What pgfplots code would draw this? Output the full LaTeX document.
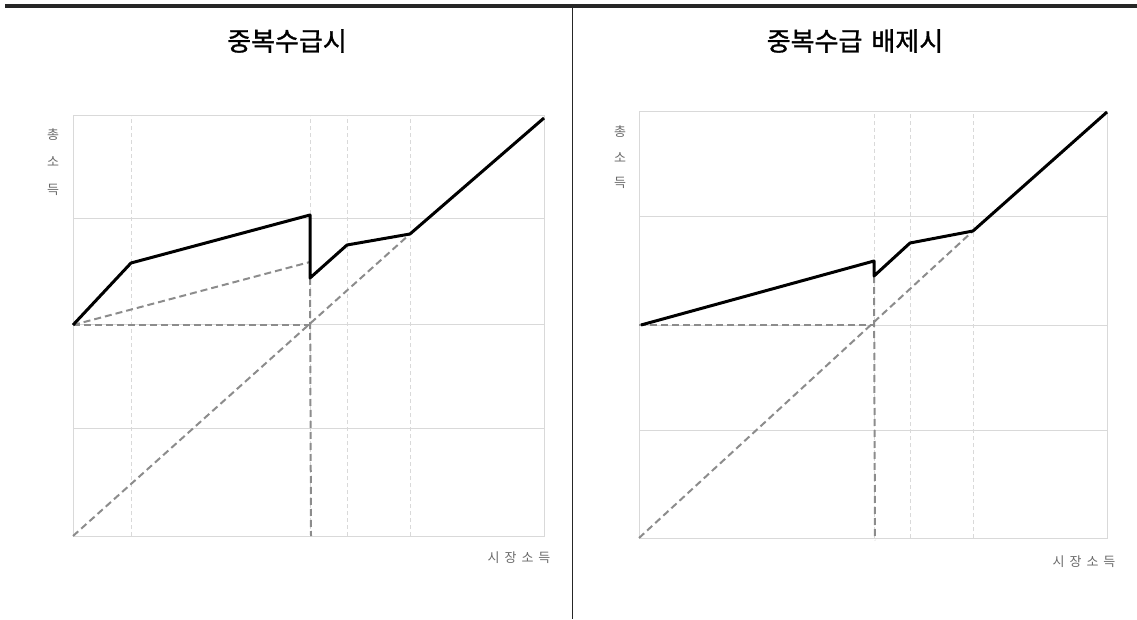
\documentclass[border=0pt]{standalone}
\usepackage{fontspec}
\usepackage{pgfplots}
\pgfplotsset{compat=1.18}
\newfontfamily\kr{Noto Sans CJK KR}
\newfontfamily\krb[FakeBold=1.2]{Noto Sans CJK KR}
\definecolor{gridc}{RGB}{217,217,217}
\definecolor{dashc}{RGB}{140,140,140}
\definecolor{labc}{RGB}{105,105,105}
\pgfplotsset{panel/.style={scale only axis, anchor=south west, xmin=0, ymin=0,
  axis line style={gridc, line width=1pt}, xmajorgrids, ymajorgrids,
  x grid style={gridc, line width=0.8pt, dash pattern=on 4pt off 3pt},
  y grid style={gridc, line width=1pt},
  xticklabels={}, yticklabels={}, major tick length=0pt, clip=false},
  dl/.style={dashc, line width=2pt, dash pattern=on 7pt off 4pt},
  bl/.style={black, line width=3pt, line join=round}}
\begin{document}
\begin{tikzpicture}
\begin{axis}[panel, at={(73pt,83pt)}, width=471pt, height=420pt, xmax=471, ymax=420,
  xtick={58,237,274,337}, ytick={108,211,317}]
\addplot[dl] coordinates {(0,0) (337,302)};
\addplot[dl] coordinates {(0,211) (237,211)};
\addplot[dl] coordinates {(0,211) (237,274)};
\addplot[dl] coordinates {(237,258) (238,0)};
\addplot[bl] coordinates {(0,211) (58,273) (237,321) (237,258) (274,291) (337,302) (471,418)};
\end{axis}
\begin{axis}[panel, at={(639pt,81pt)}, width=468pt, height=426pt, xmax=468, ymax=426,
  xtick={235,271,334}, ytick={108,213,321}]
\addplot[dl] coordinates {(0,0) (334,307)};
\addplot[dl] coordinates {(0,213) (235,213)};
\addplot[dl] coordinates {(235,262) (236,-2)};
\addplot[bl] coordinates {(2,213) (235,277) (235,262) (271,295) (334,307) (468,426)};
\end{axis}
% axis labels
\begin{scope}[every node/.style={labc, font=\kr\fontsize{13}{15}\selectfont}]
\node at (53pt,484pt) {총};
\node at (53pt,457pt) {소};
\node at (53pt,429pt) {득};
\node at (620pt,487pt) {총};
\node at (620pt,461pt) {소};
\node at (620pt,436pt) {득};
\node at (519pt,61pt) {시\hspace{5pt}장\hspace{5pt}소\hspace{5pt}득};
\node at (1084pt,57pt) {시\hspace{5pt}장\hspace{5pt}소\hspace{5pt}득};
\end{scope}
% titles
\node[font=\krb\fontsize{26}{30}\selectfont] at (287pt,578pt) {중복수급시};
\node[font=\krb\fontsize{26}{30}\selectfont] at (855pt,578pt) {중복수급\hspace{0.35em}배제시};
% frame lines
\draw[line width=3.5pt, black!85] (5pt,613pt) -- (1137pt,613pt);
\draw[line width=1.3pt, black!85] (572.5pt,613pt) -- (572.5pt,0pt);
\pgfresetboundingbox
\useasboundingbox (0,0) rectangle (1137pt,619pt);
\end{tikzpicture}
\end{document}
